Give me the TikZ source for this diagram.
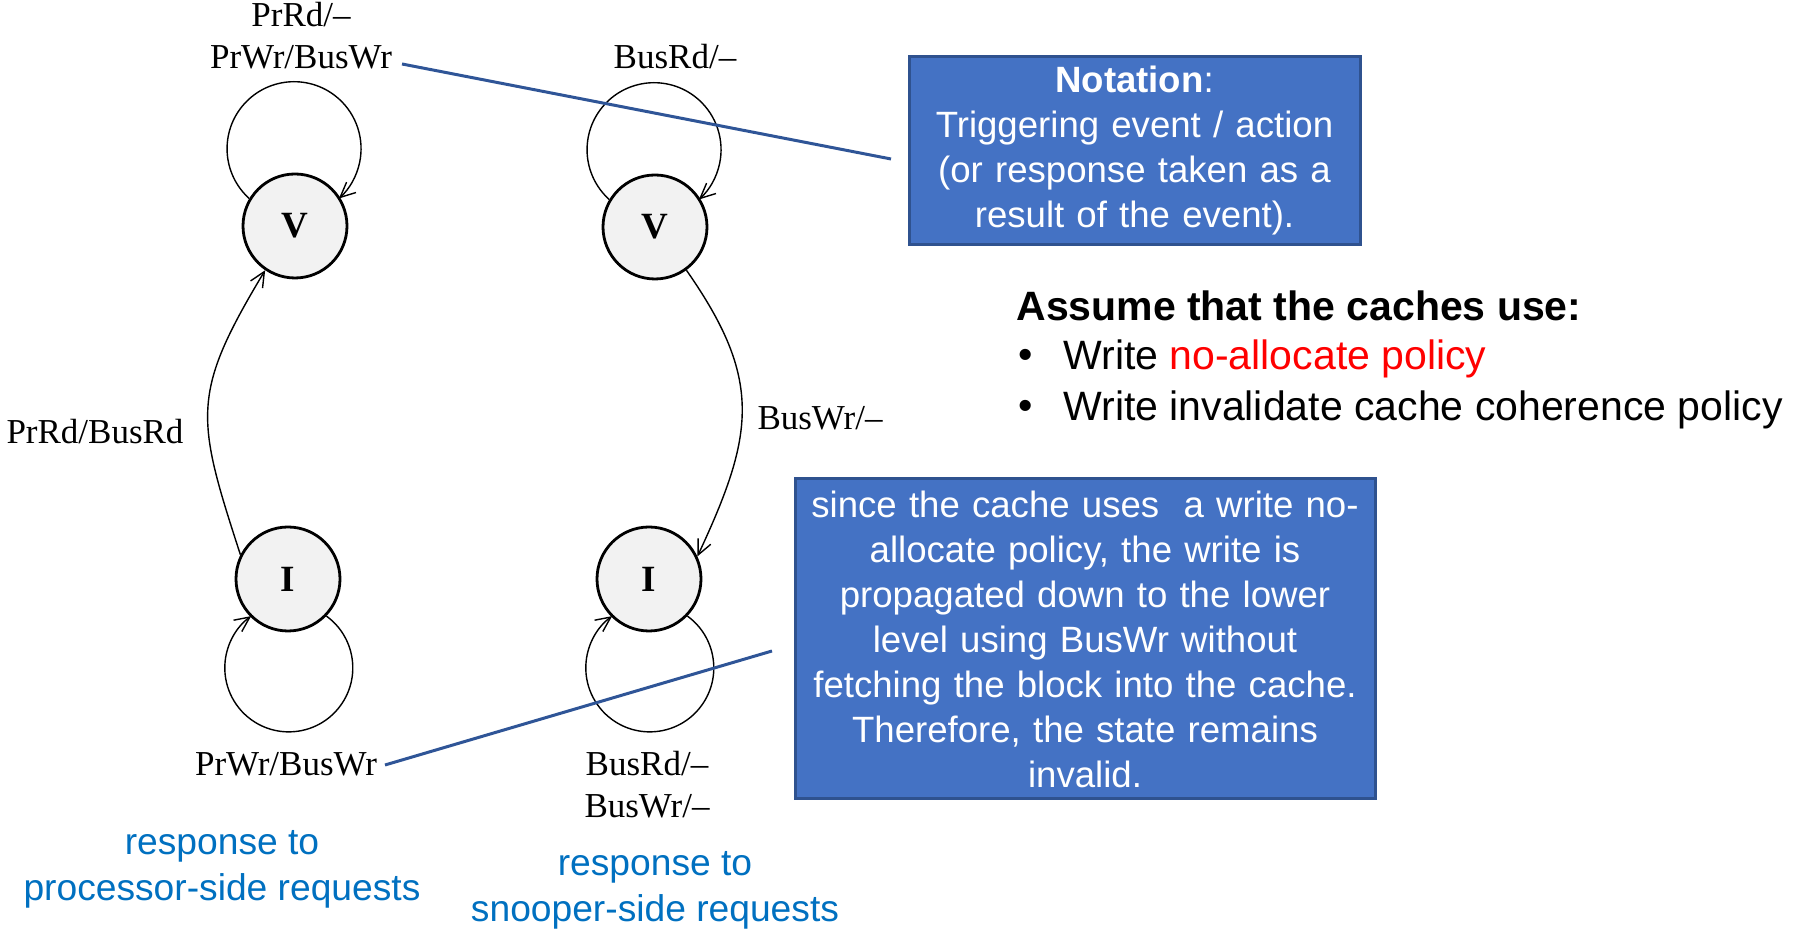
\documentclass[tikz,border=0pt]{standalone}
\usepackage{fontspec}
\setmainfont{Liberation Serif}
\setsansfont{Liberation Sans}
\usetikzlibrary{arrows.meta}
\definecolor{boxblue}{HTML}{4472C4}
\definecolor{boxedge}{HTML}{2F528F}
\definecolor{callout}{HTML}{2F5597}
\definecolor{capblue}{HTML}{0070C0}
\begin{document}
\begin{tikzpicture}[x=0.5pt,y=0.5pt,
    state/.style={circle,draw,line width=1.4pt,fill=black!5,minimum size=52pt,inner sep=0pt,font=\fontsize{18.5}{22}\selectfont\bfseries},
    lbl/.style={font=\fontsize{17.5}{21}\selectfont,align=center,inner sep=0pt},
    trans/.style={line width=0.7pt,-{Straight Barb[length=7.5pt,width=7pt]}},
    infobox/.style={draw=boxedge,line width=1.5pt,fill=boxblue,text=white,align=center,inner sep=0pt,font=\sffamily\fontsize{18.3}{22.5}\selectfont},
    caption/.style={text=capblue,align=center,font=\sffamily\fontsize{18.6}{23}\selectfont},
    plain/.style={anchor=west,inner sep=0pt,font=\sffamily\fontsize{20.5}{24}\selectfont},
    pointer/.style={draw=callout,line width=1.5pt}]
        \useasboundingbox (0,0) rectangle (1815,952);
        % states
        \node[state] (v1) at (295,726) {V};
        \node[state] (i1) at (288,373) {I};
        \node[state] (v2) at (655,725) {V};
        \node[state] (i2) at (649,373) {I};
        % self loops
        \draw[trans] (v1.149) arc[start angle=228, end angle=-48, radius=67];
        \draw[trans] (v2.149) arc[start angle=228, end angle=-48, radius=67];
        \draw[trans] (i1.-44) arc[start angle=54, end angle=-234, radius=64];
        \draw[trans] (i2.-44) arc[start angle=54, end angle=-234, radius=64];
        % transitions
        \draw[trans] (i1.153) to[out=108,in=239,looseness=1.3] (v1.236);
        \draw[trans] (v2.-54) to[out=-55,in=65,looseness=1.2] (i2.25);
        % labels
        \node[lbl] (v1l) at (301,916) {PrRd/–\\PrWr/BusWr};
        \node[lbl] (v2l) at (675,895) {BusRd/–};
        \node[lbl] (e1l) at (95,520) {PrRd/BusRd};
        \node[lbl] (e2l) at (820,534) {BusWr/–};
        \node[lbl] (i1l) at (286,188) {PrWr/BusWr};
        \node[lbl] (i2l) at (647,167) {BusRd/–\\BusWr/–};
        \node[caption] (cap1) at (222,83) {response to\\processor-side requests};
        \node[caption] (cap2) at (655,62) {response to\\snooper-side requests};
        % boxes
        \node[infobox,minimum width=225.5pt,minimum height=94pt,text width=222pt] (note) at (1134.5,801)
            {\textbf{Notation}:\\Triggering event / action\\(or response taken as a\\result of the event).};
        \node[infobox,minimum width=290pt,minimum height=160pt,text width=286pt] (why) at (1085,313)
            {since the cache uses~ a write no-\\allocate policy, the write is\\propagated down to the lower\\level using BusWr without\\fetching the block into the cache.\\Therefore, the state remains\\invalid.};
        \node[plain,font=\sffamily\bfseries\fontsize{20.5}{24}\selectfont] (assume) at (1016,646) {Assume that the caches use:};
        \node[plain] (b1) at (1018,593) {\textbullet};
        \node[plain] (t1) at (1063,593) {Write \textcolor{red}{no-allocate policy}};
        \node[plain] (b2) at (1018,542) {\textbullet};
        \node[plain] (t2) at (1063,542) {Write invalidate cache coherence policy};
        % pointers
        \coordinate (p1a) at (402,888);
        \coordinate (p1b) at (891,793);
        \coordinate (p2a) at (385,187);
        \coordinate (p2b) at (772,301);
        \draw[pointer] (p1a) -- (p1b);
        \draw[pointer] (p2a) -- (p2b);
\end{tikzpicture}
\end{document}
